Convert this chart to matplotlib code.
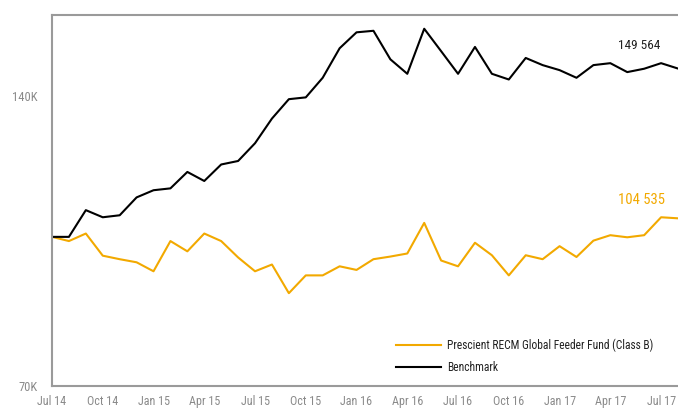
import numpy as np
import matplotlib.pyplot as plt
from matplotlib.ticker import NullLocator

# monthly values, Jul 14 .. Aug 17 (thousands, start = 100)
fund = [100.0, 99.0, 100.8, 95.6, 94.8, 94.1, 92.1, 99.0, 96.6, 100.8,
        99.0, 95.2, 92.1, 93.6, 87.4, 91.2, 91.2, 93.2, 92.4, 94.8,
        95.4, 96.1, 103.4, 94.5, 93.2, 98.6, 95.7, 91.2, 95.7, 94.8,
        97.8, 95.3, 99.1, 100.4, 99.9, 100.4, 104.8, 104.535]
benchmark = [100.0, 100.0, 106.6, 104.8, 105.3, 109.9, 111.8, 112.3, 116.8, 114.3,
             118.9, 119.9, 125.1, 132.7, 139.0, 139.6, 146.3, 157.0, 163.1, 163.7,
             152.9, 147.7, 164.5, 155.9, 147.7, 157.5, 147.7, 145.7, 153.4, 150.8,
             149.0, 146.3, 150.8, 151.5, 148.3, 149.5, 151.5, 149.564]
tick_labels = ["Jul 14", "Oct 14", "Jan 15", "Apr 15", "Jul 15", "Oct 15", "Jan 16",
               "Apr 16", "Jul 16", "Oct 16", "Jan 17", "Apr 17", "Jul 17"]
y_ticks = [70, 140]
y_tick_labels = ["70K", "140K"]
fund_name = "Prescient RECM Global Feeder Fund (Class B)"
bench_name = "Benchmark"

orange = "#F2A900"
grey = "#9a9a9a"
plt.rcParams['font.family'] = ['Roboto Condensed', 'Abel', 'DejaVu Sans']
plt.rcParams['font.stretch'] = 'condensed'

fig = plt.figure(figsize=(6.78, 4.08), dpi=100)
ax = fig.add_axes([52/678, 22/408, 1 - 52/678, 371/408])

x = np.arange(len(fund))
ax.plot(x, fund, color=orange, lw=1.5, label=fund_name)
ax.plot(x, benchmark, color="black", lw=1.5, label=bench_name)

ax.set_yscale("log")
ax.set_ylim(70, 170)
ax.set_xlim(0, len(fund) - 1)
ax.yaxis.set_minor_locator(NullLocator())
ax.set_yticks(y_ticks)
ax.set_yticklabels(y_tick_labels)
ax.set_xticks(np.arange(0, len(tick_labels) * 3, 3))
ax.set_xticklabels(tick_labels)
ax.tick_params(length=0, colors="#8a8a8a", labelsize=9)
ax.tick_params(axis="x", pad=6.5, labelsize=8.7)
ax.tick_params(axis="y", pad=10)

for s in ["left", "top", "bottom"]:
    ax.spines[s].set_color(grey)
    ax.spines[s].set_linewidth(1.5)
ax.spines["right"].set_visible(False)

ax.annotate("149 564", xy=(x[-1], benchmark[-1]), xytext=(-28, 16.5), textcoords="offset points",
            ha="center", va="center", fontsize=9.5, color="#222222")
ax.annotate("104 535", xy=(x[-1], fund[-1]), xytext=(-26.5, 13.5), textcoords="offset points",
            ha="center", va="center", fontsize=10.5, color=orange)

leg = fig.legend(loc="upper left", bbox_to_anchor=(396/678, (408 - 339)/408), frameon=False,
                 fontsize=8.3, handlelength=3.9, handletextpad=0.5, labelspacing=0.75,
                 borderpad=0, borderaxespad=0)
for t in leg.get_texts():
    t.set_color("#222222")

fig.savefig("out.png", dpi=100)
